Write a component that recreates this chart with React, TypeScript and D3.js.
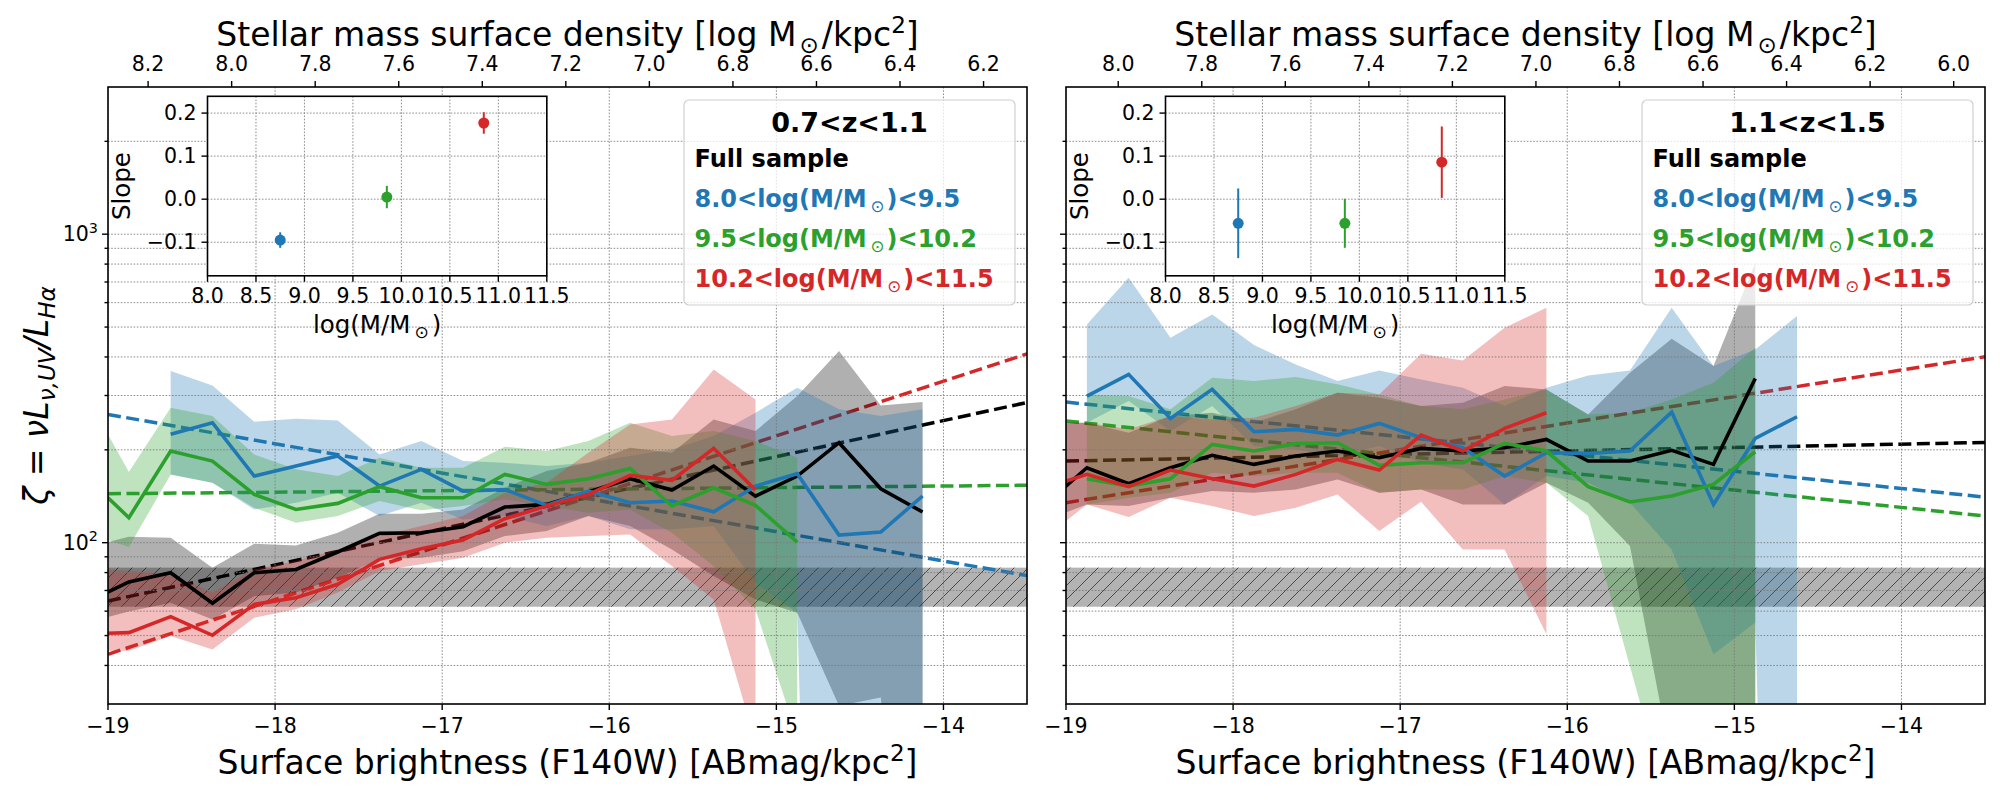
import * as d3 from "d3";
import { useEffect, useRef } from "react";

const N = null;

// surface-brightness bin centres [ABmag/kpc^2]
const sbBins = [
  -19.125, -18.875, -18.625, -18.375, -18.125, -17.875, -17.625, -17.375,
  -17.125, -16.875, -16.625, -16.375, -16.125, -15.875, -15.625, -15.375,
  -15.125, -14.875, -14.625, -14.375, -14.125,
];

// ---- 0.7<z<1.1 : zeta median and 1-sigma range per bin ----
const lzFull = [64.2, 74.6, 79.9, 63.6, 79.9, 81.9, 93.3, 107.2, 107.7, 112.7, 130.5, 133.1, 145.9, 161.2, 148.2, 177.2, 141.6, 164.4, 210.9, 149.6, 125.7];
const lzFullHi = [96.6, 104.6, 103.8, 83.0, 99.3, 98.0, 107.7, 124.2, 124.2, 128.2, 150.7, 170.7, 181.7, 203.0, 195.7, 251, 230.1, 298.8, 417.9, 278.6, 285.6];
const lzFullLo = [55.1, 59.8, 63.9, 56.4, 67.1, 68.9, 77.0, 88.3, 89.4, 93.9, 105.1, 109.1, 122.0, 113.2, 95.1, 78.0, 65.5, 59.3, 29.6, 31.5, 1];

const lzLow = [N, N, 224.5, 244.8, 164.5, 177.2, 190.9, 152.6, 172.8, 147.0, 148.8, 132.1, 147.0, 134.8, 136.5, 126.0, 152.6, 167.4, 105.9, 108.3, 141.7];
const lzLowHi = [N, N, 360, 323.5, 246.6, 252.2, 249.1, 193.3, 213.5, 183.9, 181.6, 177.2, 181.6, 190.9, 200.6, 221.6, 263.8, 317.9, 270.5, 257.3, 270.5];
const lzLowLo = [N, N, 166.5, 156.5, 128.2, 134.8, 145.2, 122.0, 134.8, 119.0, 122.0, 113.2, 122.0, 110.5, 110.5, 113.2, 74.2, 59.3, 0.001, 0.001, 0.001];

const lzMid = [162.4, 120.5, 198.2, 183.9, 143.4, 128.2, 134.1, 151.9, 139.9, 139.9, 166.5, 154.5, 161.2, 174.1, 131.5, 150.7, 132.1, 100.5, N, N, N];
const lzMidHi = [297.2, 169.4, 273.8, 257.3, 193.3, 172.9, 164.4, 188.6, 175.0, 175.0, 204.7, 198.2, 213.5, 244.8, 221.6, 230.1, 213.5, 188.6, N, N, N];
const lzMidLo = [107.7, 96.8, 166.5, 156.5, 129.8, 116.1, 122.0, 136.5, 127.3, 131.5, 138.2, 131.5, 125.1, 128.2, 107.7, 84.0, 60.8, 23.5, N, N, N];

const lzHigh = [50.6, 51.1, 57.6, 50.1, 63.1, 66.3, 73.3, 88.3, 95.6, 102.0, 119.6, 131.5, 143.4, 165.3, 159.2, 202.1, 148.2, N, N, N, N];
const lzHighHi = [81.9, 80.9, 79.0, 68.9, 81.9, 87.2, 95.1, 105.1, 113.2, 122.0, 145.2, 156.5, 195.7, 241.8, 251.0, 364.5, 291.4, N, N, N, N];
const lzHighLo = [44.6, 44.6, 49.8, 45.1, 57.1, 60.8, 68.9, 80.9, 85.1, 89.4, 100, 103.8, 105.1, 106.4, 84.0, 65.5, 22.6, N, N, N, N];

// ---- 1.1<z<1.5 ----
const hzFull = [133.1, 175.0, 155.3, 175.0, 191.9, 179.4, 190.9, 198.2, 188.6, 202.1, 198.2, 203.1, 216.2, 183.9, 183.9, 199.2, 179.4, 340.8, N, N, N];
const hzFullHi = [244.8, 244.8, 227.2, 257.3, 263.8, 244.8, 270.5, 306.3, 295.1, 277.3, 284.2, 321.9, 314.0, 260.5, 355.6, 458.2, 373.6, 807.9, N, N, N];
const hzFullLo = [118, 133.1, 131.5, 139.9, 147.0, 145.2, 148.8, 160.4, 145.2, 148.8, 133.1, 133.1, 156.5, 134.8, 97.5, 19.2, 6, 6, N, N, N];

const hzLow = [N, 298.8, 351.3, 252.8, 314.0, 228.9, 233.0, 223.3, 243.6, 218.9, 203.1, 164.4, 195.7, 194.8, 198.2, 265.1, 133.1, 217.8, 256.0, N, N];
const hzLowHi = [N, 510.0, 722.3, 461.7, 549.5, 437.1, 378.4, 334.1, 361.8, 338.3, 317.9, 277.3, 317.9, 348.6, 361.8, 577.4, 373.6, 423.1, 542.7, N, N];
const hzLowLo = [N, 244.8, 287.8, 230.1, 277.3, 205.7, 200.6, 190.9, 205.7, 181.6, 172.9, 133.1, 164.4, 156.5, 134.8, 95.1, 43.5, 55.1, 0.001, N, N];

const hzMid = [N, 161.2, 152.6, 161.2, 208.3, 198.2, 209.4, 210.9, 178.1, 181.6, 181.6, 209.9, 198.2, 151.9, 135.5, 141.6, 154.5, 197.2, N, N, N];
const hzMidHi = [N, 302.5, 298.8, 270.5, 342.5, 334.1, 344.2, 326.0, 302.5, 277.3, 270.5, 291.4, 314.0, 260.5, 263.8, 291.4, 330.0, 428.4, N, N, N];
const hzMidLo = [N, 133.1, 139.9, 145.2, 168.6, 164.4, 168.6, 168.6, 145.2, 148.8, 148.8, 164.4, 156.5, 122.0, 39.8, 13.0, 5, 5, N, N, N];

const hzHigh = [150.7, 166.5, 151.9, 172.0, 161.2, 152.6, 166.5, 186.2, 172.0, 223.3, 198.2, 234.7, 263.8, N, N, N, N, N, N, N, N];
const hzHighHi = [244.8, 244.8, 233.0, 257.3, 251.0, 254.2, 277.3, 306.3, 302.5, 409.7, 389.8, 497.5, 577.4, N, N, N, N, N, N, N, N];
const hzHighLo = [103.8, 133.1, 121.1, 139.9, 131.5, 122.0, 129.8, 143.4, 109.1, 135.8, 95.1, 95.1, 50.5, N, N, N, N, N, N, N, N];

// power-law fits: zeta at SB=-19 and slope (dex per mag), order full/low/mid/high
const fitAt19 = [
  [64.7, 260.5, 144.1, 43.5],
  [183.9, 285.6, 248, 134.8],
];
const fitSlope = [
  [0.117, -0.095, 0.005, 0.177],
  [0.011, -0.056, -0.056, 0.086],
];

// inset: slope vs stellar mass
const insetMass = [8.75, 9.85, 10.85];
const slopeErr = [
  [0.018, 0.026, 0.025],
  [0.081, 0.057, 0.083],
];
const insetMassTicks = [8.0, 8.5, 9.0, 9.5, 10.0, 10.5, 11.0, 11.5];
const insetSlopeTicks = [-0.1, 0.0, 0.1, 0.2];

const zRanges = ["0.7<z<1.1", "1.1<z<1.5"];
const massRanges = [["8.0", "9.5"], ["9.5", "10.2"], ["10.2", "11.5"]];
const sigmaAtEdge = [8.296, 8.125]; // log stellar mass density at SB = -19
const topTicks = [
  [8.2, 8.0, 7.8, 7.6, 7.4, 7.2, 7.0, 6.8, 6.6, 6.4, 6.2],
  [8.0, 7.8, 7.6, 7.4, 7.2, 7.0, 6.8, 6.6, 6.4, 6.2, 6.0],
];
const sbTicks = [-19, -18, -17, -16, -15, -14];
const zetaMajor = [100, 1000];
const zetaMinor = [40, 50, 60, 70, 80, 90, 200, 300, 400, 500, 600, 700, 800, 900, 2000];
const dustBand = [62, 83];

const colors = ["#000000", "#1f77b4", "#2ca02c", "#d62728"];

const series = [
  [
    { line: lzFull, hi: lzFullHi, lo: lzFullLo },
    { line: lzLow, hi: lzLowHi, lo: lzLowLo },
    { line: lzMid, hi: lzMidHi, lo: lzMidLo },
    { line: lzHigh, hi: lzHighHi, lo: lzHighLo },
  ],
  [
    { line: hzFull, hi: hzFullHi, lo: hzFullLo },
    { line: hzLow, hi: hzLowHi, lo: hzLowLo },
    { line: hzMid, hi: hzMidHi, lo: hzMidLo },
    { line: hzHigh, hi: hzHighHi, lo: hzHighLo },
  ],
];

const FONT = "'DejaVu Sans', sans-serif";
const TOP = 87;
const BOT = 704;
const PW = 919;
const panelLeft = [108, 1066];
const SB_DOMAIN = [-19, -13.5];

const minus = (s: string) => s.replace("-", "\u2212");

interface Piece {
  t: string;
  pos?: "sub" | "sup";
  it?: boolean;
  light?: boolean;
  dx?: number;
}

function richText(parent: any, x: number, y: number, pieces: Piece[], size: number, anchor = "start", weight = "normal", fill = "#000", rotate = 0) {
  const text = parent
    .append("text")
    .attr("x", x)
    .attr("y", y)
    .attr("font-family", FONT)
    .attr("font-size", size)
    .attr("font-weight", weight)
    .attr("fill", fill)
    .attr("text-anchor", anchor);
  if (rotate) text.attr("transform", `rotate(${rotate},${x},${y})`);
  let shift = 0;
  pieces.forEach((p) => {
    const target = p.pos === "sub" ? size * 0.22 : p.pos === "sup" ? -size * 0.4 : 0;
    const ts = text.append("tspan").text(p.t).attr("dy", target - shift);
    shift = target;
    if (p.pos) ts.attr("font-size", size * 0.7);
    if (p.it) ts.attr("font-style", "italic");
    if (p.light) ts.attr("font-weight", "normal");
    if (p.dx) ts.attr("dx", p.dx);
  });
  return text;
}

function drawPanel(svg: any, defs: any, k: number) {
  const left = panelLeft[k];
  const right = left + PW;
  const cx = (left + right) / 2;
  const x = d3.scaleLinear().domain(SB_DOMAIN).range([left, right]);
  const y = d3.scaleLog().domain([30, 3000]).range([BOT, TOP]);
  const span = (SB_DOMAIN[1] - SB_DOMAIN[0]) / 2.5;
  const sig = d3.scaleLinear().domain([sigmaAtEdge[k], sigmaAtEdge[k] - span]).range([left, right]);

  const clipId = `clip${k}`;
  defs.append("clipPath").attr("id", clipId)
    .append("rect").attr("x", left).attr("y", TOP).attr("width", PW).attr("height", BOT - TOP);
  const plot = svg.append("g").attr("clip-path", `url(#${clipId})`);

  // hatched reference band
  const by0 = y(dustBand[1]);
  const bh = y(dustBand[0]) - by0;
  plot.append("rect").attr("x", left).attr("y", by0).attr("width", PW).attr("height", bh)
    .attr("fill", "#808080").attr("opacity", 0.6);
  plot.append("rect").attr("x", left).attr("y", by0).attr("width", PW).attr("height", bh)
    .attr("fill", "url(#hatch)");

  // dashed fits
  colors.forEach((c, j) => {
    const fit = d3.line<number>()
      .x((s) => x(s))
      .y((s) => y(fitAt19[k][j] * Math.pow(10, fitSlope[k][j] * (s - SB_DOMAIN[0]))));
    plot.append("path").attr("d", fit(SB_DOMAIN)).attr("fill", "none")
      .attr("stroke", c).attr("stroke-width", 3.5).attr("stroke-dasharray", "13,5.5");
  });

  // 1-sigma bands
  const idx = d3.range(sbBins.length);
  series[k].forEach((s, j) => {
    const area = d3.area<number>()
      .defined((i) => s.hi[i] != null && s.lo[i] != null)
      .x((i) => x(sbBins[i]))
      .y0((i) => y(s.lo[i] as number))
      .y1((i) => y(s.hi[i] as number));
    plot.append("path").attr("d", area(idx)).attr("fill", colors[j])
      .attr("fill-opacity", j === 0 ? 0.31 : 0.3);
  });

  // grid
  const grid = plot.append("g").attr("stroke", "#7a7a7a").attr("stroke-width", 1)
    .attr("stroke-dasharray", "1.6,1.6").attr("opacity", 0.85);
  [...zetaMajor, ...zetaMinor].forEach((v) => {
    grid.append("line").attr("x1", left).attr("x2", right).attr("y1", y(v)).attr("y2", y(v));
  });
  sbTicks.forEach((t) => {
    grid.append("line").attr("x1", x(t)).attr("x2", x(t)).attr("y1", TOP).attr("y2", BOT);
  });

  // legend box
  const bw = 331;
  const bx = right - 12 - bw;
  const byy = 100;
  svg.append("rect").attr("x", bx).attr("y", byy).attr("width", bw).attr("height", 205)
    .attr("rx", 5).attr("fill", "#fff").attr("fill-opacity", 0.75)
    .attr("stroke", "#d0d0d0").attr("stroke-width", 1.2);

  // median lines
  series[k].forEach((s, j) => {
    const ln = d3.line<number>()
      .defined((i) => s.line[i] != null)
      .x((i) => x(sbBins[i]))
      .y((i) => y(s.line[i] as number));
    plot.append("path").attr("d", ln(idx)).attr("fill", "none")
      .attr("stroke", colors[j]).attr("stroke-width", 3.6).attr("stroke-linejoin", "miter");
  });

  // frame
  svg.append("rect").attr("x", left).attr("y", TOP).attr("width", PW).attr("height", BOT - TOP)
    .attr("fill", "none").attr("stroke", "#000").attr("stroke-width", 1.6);

  const axes = svg.append("g").attr("stroke", "#000").attr("stroke-width", 1.4);
  sbTicks.forEach((t) => {
    axes.append("line").attr("x1", x(t)).attr("x2", x(t)).attr("y1", BOT).attr("y2", BOT + 6);
    svg.append("text").attr("x", x(t)).attr("y", BOT + 29).attr("text-anchor", "middle")
      .attr("font-family", FONT).attr("font-size", 20.5).text(minus(String(t)));
  });
  topTicks[k].forEach((t) => {
    axes.append("line").attr("x1", sig(t)).attr("x2", sig(t)).attr("y1", TOP).attr("y2", TOP - 6);
    svg.append("text").attr("x", sig(t)).attr("y", TOP - 16).attr("text-anchor", "middle")
      .attr("font-family", FONT).attr("font-size", 20.5).text(t.toFixed(1));
  });
  zetaMajor.forEach((v) => {
    axes.append("line").attr("x1", left - 6).attr("x2", left).attr("y1", y(v)).attr("y2", y(v));
    if (k === 0) {
      richText(svg, left - 10, y(v) + 7, [{ t: "10" }, { t: String(Math.round(Math.log10(v))), pos: "sup" }], 20.5, "end");
    }
  });
  zetaMinor.forEach((v) => {
    axes.append("line").attr("x1", left - 3.5).attr("x2", left).attr("y1", y(v)).attr("y2", y(v));
  });

  // axis titles
  richText(svg, cx, 46, [
    { t: "Stellar mass surface density [log M" },
    { t: "\u2299", pos: "sub", dx: 3 },
    { t: "/kpc", dx: 3 },
    { t: "2", pos: "sup" },
    { t: "]" },
  ], 33, "middle");
  richText(svg, cx, 774, [
    { t: "Surface brightness (F140W) [ABmag/kpc" },
    { t: "2", pos: "sup" },
    { t: "]" },
  ], 33, "middle");
  if (k === 0) {
    richText(svg, 48, (TOP + BOT) / 2, [
      { t: "\u03b6", it: true },
      { t: " = " },
      { t: "\u03bdL", it: true },
      { t: "\u03bd,UV", pos: "sub", it: true },
      { t: "/L", it: true },
      { t: "H\u03b1", pos: "sub", it: true },
    ], 33, "middle", "normal", "#000", -90);
  }

  // legend text
  svg.append("text").attr("x", bx + bw / 2).attr("y", byy + 31.7).attr("text-anchor", "middle")
    .attr("font-family", FONT).attr("font-size", 27).attr("font-weight", "bold").text(zRanges[k]);
  svg.append("text").attr("x", bx + 10.5).attr("y", byy + 67.3)
    .attr("font-family", FONT).attr("font-size", 24).attr("font-weight", "bold").text("Full sample");
  massRanges.forEach((m, j) => {
    richText(svg, bx + 10.5, byy + 106.7 + 40 * j, [
      { t: `${m[0]}<log(M/M` },
      { t: "\u2299", pos: "sub", light: true, dx: 4 },
      { t: `)<${m[1]}`, dx: 2 },
    ], 24, "start", "bold", colors[j + 1]);
  });

  // inset
  const ix = left + 99.5;
  const iy = TOP + 9.3;
  const iw = 339.3;
  const ih = 179.5;
  const sx = d3.scaleLinear().domain([8, 11.5]).range([ix, ix + iw]);
  const sy = d3.scaleLinear().domain([-0.178, 0.239]).range([iy + ih, iy]);
  const inset = svg.append("g");
  inset.append("rect").attr("x", ix).attr("y", iy).attr("width", iw).attr("height", ih).attr("fill", "#fff");
  const ig = inset.append("g").attr("stroke", "#7a7a7a").attr("stroke-width", 1)
    .attr("stroke-dasharray", "1.6,1.6").attr("opacity", 0.85);
  insetMassTicks.forEach((t) => {
    ig.append("line").attr("x1", sx(t)).attr("x2", sx(t)).attr("y1", iy).attr("y2", iy + ih);
  });
  insetSlopeTicks.forEach((t) => {
    ig.append("line").attr("x1", ix).attr("x2", ix + iw).attr("y1", sy(t)).attr("y2", sy(t));
  });
  inset.append("rect").attr("x", ix).attr("y", iy).attr("width", iw).attr("height", ih)
    .attr("fill", "none").attr("stroke", "#000").attr("stroke-width", 1.6);
  insetMassTicks.forEach((t) => {
    inset.append("line").attr("x1", sx(t)).attr("x2", sx(t)).attr("y1", iy + ih).attr("y2", iy + ih + 6)
      .attr("stroke", "#000").attr("stroke-width", 1.4);
    inset.append("text").attr("x", sx(t)).attr("y", iy + ih + 27).attr("text-anchor", "middle")
      .attr("font-family", FONT).attr("font-size", 20.5).text(t.toFixed(1));
  });
  insetSlopeTicks.forEach((t) => {
    inset.append("line").attr("x1", ix - 6).attr("x2", ix).attr("y1", sy(t)).attr("y2", sy(t))
      .attr("stroke", "#000").attr("stroke-width", 1.4);
    inset.append("text").attr("x", ix - 11).attr("y", sy(t) + 7).attr("text-anchor", "end")
      .attr("font-family", FONT).attr("font-size", 20.5).text(minus(t.toFixed(1)));
  });
  richText(inset, ix + iw / 2, iy + ih + 57, [
    { t: "log(M/M" },
    { t: "\u2299", pos: "sub", dx: 4 },
    { t: ")", dx: 3 },
  ], 24.5, "middle");
  inset.append("text").attr("x", ix - 77).attr("y", iy + ih / 2).attr("text-anchor", "middle")
    .attr("transform", `rotate(-90,${ix - 77},${iy + ih / 2})`)
    .attr("font-family", FONT).attr("font-size", 24.5).text("Slope");
  insetMass.forEach((m, j) => {
    const s = fitSlope[k][j + 1];
    const e = slopeErr[k][j];
    inset.append("line").attr("x1", sx(m)).attr("x2", sx(m)).attr("y1", sy(s - e)).attr("y2", sy(s + e))
      .attr("stroke", colors[j + 1]).attr("stroke-width", 2);
    inset.append("circle").attr("cx", sx(m)).attr("cy", sy(s)).attr("r", 5.5).attr("fill", colors[j + 1]);
  });
}

export default function App() {
  const ref = useRef<SVGSVGElement>(null);

  useEffect(() => {
    document.body.style.margin = "0";
    const svg = d3.select(ref.current);
    svg.selectAll("*").remove();
    const defs = svg.append("defs");
    const pat = defs.append("pattern").attr("id", "hatch").attr("patternUnits", "userSpaceOnUse")
      .attr("width", 14).attr("height", 14);
    pat.append("path").attr("d", "M-2,2 L2,-2 M0,14 L14,0 M12,16 L16,12")
      .attr("stroke", "#4a4a4a").attr("stroke-width", 1);
    [0, 1].forEach((k) => drawPanel(svg, defs, k));
  }, []);

  return <svg ref={ref} width={2000} height={800} style={{ display: "block", background: "#fff" }} />;
}
